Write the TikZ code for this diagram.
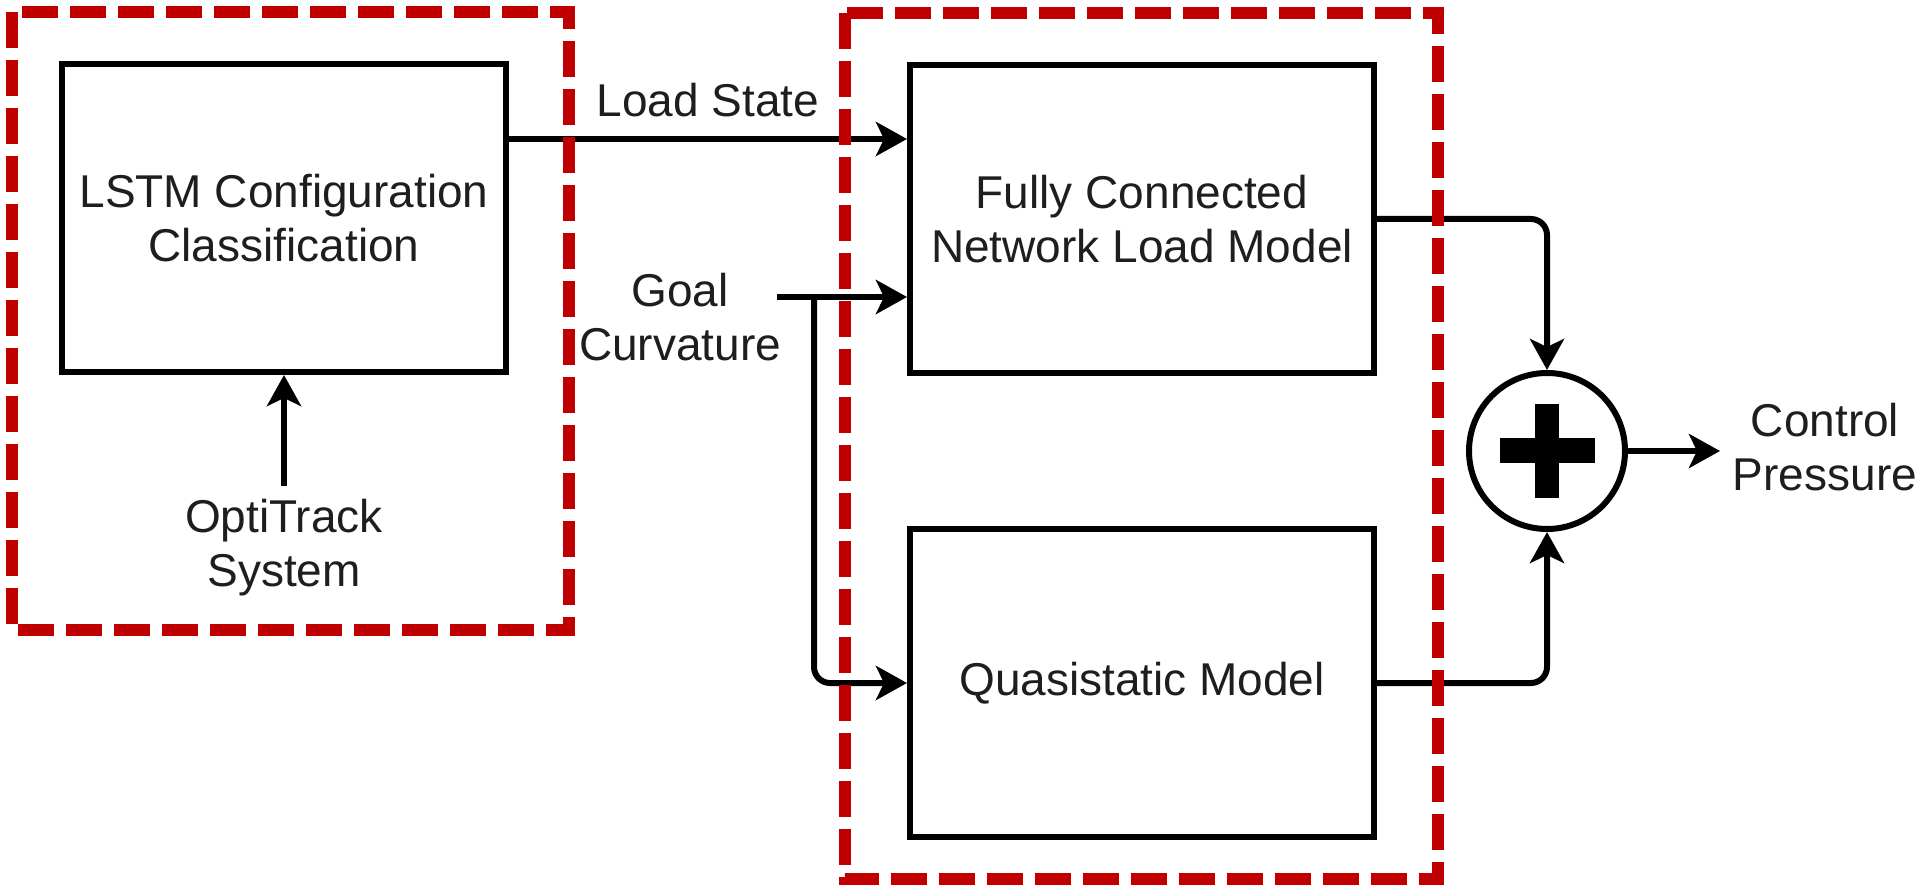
\documentclass[tikz,border=0pt]{standalone}
\usepackage{fontspec}
\setmainfont{Liberation Sans}
\usetikzlibrary{arrows.meta,calc}
\definecolor{frame}{HTML}{C00000}
\definecolor{txt}{HTML}{1E1E1E}
\begin{document}
\begin{tikzpicture}[x=0.5pt,y=-0.5pt,
  every node/.style={font=\fontsize{23pt}{27pt}\selectfont, text=txt},
  block/.style={draw=black, line width=3pt, minimum width=222pt, minimum height=154pt, align=center, inner sep=0pt},
  lbl/.style={align=center, inner sep=0pt},
  arr/.style={line width=3pt, -{Stealth[length=15.5pt,width=17pt,inset=4pt]}},
  groupbox/.style={draw=frame, line width=6pt, dash pattern=on 18pt off 6pt},
]
\useasboundingbox (0,0) rectangle (1931,886);

% blocks
\node[block] (lstm) at (284,218) {LSTM Configuration\\Classification};
\node[block, minimum width=232pt] (fc) at (1142,219) {Fully Connected\\Network Load Model};
\node[block, minimum width=232pt] (qs) at (1142,683) {Quasistatic Model};
\node[circle, draw=black, line width=3pt, minimum size=78pt, inner sep=0pt] (sum) at (1547,451) {};
\fill[black] ($(sum.center)+(-12,-47)$) rectangle ($(sum.center)+(12,47)$);
\fill[black] ($(sum.center)+(-47.5,-12.5)$) rectangle ($(sum.center)+(47.5,12.5)$);

% labels
\node[lbl] (opti) at (284,548) {OptiTrack\\System};
\node[lbl] (goal) at (680,317.5) {Goal\\Curvature};
\node[lbl] (cp) at (1825,447.5) {Control\\Pressure};
\node[lbl, anchor=base] (ls) at (708,117) {Load State};

% connectors
\path (lstm.north east) ++(0,78) coordinate (ls0);
\draw[arr] (ls0) -- (ls0 -| fc.west);
\coordinate (g0) at (777,297);
\coordinate (gb) at (814,297);
\draw[arr] (g0) -- (g0 -| fc.west);
\draw[arr, rounded corners=8pt] (gb) |- (qs.west);
\draw[arr] ([yshift=6.5pt]opti.north) -- (lstm.south);
\draw[arr, rounded corners=8pt] (fc.east) -| (sum.north);
\draw[arr, rounded corners=8pt] (qs.east) -| (sum.south);
\coordinate (out) at (1720,451);
\draw[arr] (sum.east) -- (out);

% dashed group frames
\draw[groupbox] (12,12) rectangle (569,630);
\draw[groupbox] (845,13) rectangle (1438,879);
\end{tikzpicture}
\end{document}
